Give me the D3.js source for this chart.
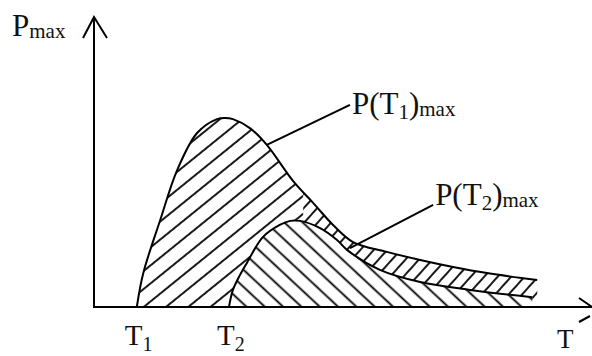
<!DOCTYPE html>
<html>
<head>
<meta charset="utf-8">
<script src="https://cdn.jsdelivr.net/npm/d3@7"></script>
<style>
  body { margin: 0; background: #fff; }
  text { font-family: "Liberation Serif", "DejaVu Serif", serif; fill: #111; }
</style>
</head>
<body>
<script>
// curve, T and P in arbitrary units (0..10)
const t1Curve = [0.86, 0.99, 1.33, 1.67, 2.07, 2.47, 2.63, 2.79, 3.13, 3.47, 4.00, 4.40, 4.80, 5.20, 5.88, 6.55, 7.21, 7.89, 8.90];
const p1Curve = [0, 1.17, 3.00, 4.72, 6.00, 6.48, 6.52, 6.48, 6.17, 5.59, 4.34, 3.59, 2.83, 2.24, 1.90, 1.62, 1.38, 1.17, 0.93];

const t2Curve = [2.71, 2.79, 2.93, 3.07, 3.39, 3.73, 3.94, 4.14, 4.54, 4.88, 5.08, 5.74, 6.55, 7.55, 8.80];
const p2Curve = [0, 0.59, 1.10, 1.52, 2.41, 2.83, 2.97, 2.97, 2.72, 2.31, 1.97, 1.28, 0.86, 0.59, 0.34];

// tick labels on the T axis
const tickValues = [0.86, 2.71];
const tickLabels = [['T', '1'], ['T', '2']];

// leader lines: from curve point to label
const leaders = [
  { from: [3.47, 5.59], to: [5.14, 6.97], main: 'P(T', sub: '1', tail: ')', max: 'max', at: [5.18, 6.66] },
  { from: [5.14, 2.03], to: [6.81, 3.52], main: 'P(T', sub: '2', tail: ')', max: 'max', at: [6.85, 3.52] }
];

const tailSplit = 4.2; // where the denser hatch starts between the curves

const W = 592, H = 356;

const svg = d3.select('body').append('svg')
  .attr('width', W)
  .attr('height', H);

const x = d3.scaleLinear().domain([0, 10]).range([94, 592]);
const y = d3.scaleLinear().domain([0, 10]).range([307, 17]);

const curve1 = t1Curve.map((t, i) => [t, p1Curve[i]]);
const curve2 = t2Curve.map((t, i) => [t, p2Curve[i]]);

const defs = svg.append('defs');

function hatch(id, spacing, angle, sw) {
  const p = defs.append('pattern')
    .attr('id', id)
    .attr('patternUnits', 'userSpaceOnUse')
    .attr('width', spacing)
    .attr('height', 10)
    .attr('patternTransform', `rotate(${angle})`);
  p.append('line')
    .attr('x1', spacing / 2).attr('y1', -1)
    .attr('x2', spacing / 2).attr('y2', 11)
    .attr('stroke', '#000')
    .attr('stroke-width', sw);
}
hatch('h1', 14, 51, 1.8);
hatch('h1tail', 10, 42, 1.8);
hatch('h2', 12.5, -47, 1.8);

defs.append('clipPath').attr('id', 'leftPart')
  .append('rect')
  .attr('x', 0).attr('y', 0)
  .attr('width', x(tailSplit)).attr('height', H);
defs.append('clipPath').attr('id', 'rightPart')
  .append('rect')
  .attr('x', x(tailSplit)).attr('y', 0)
  .attr('width', W).attr('height', H);

const area = d3.area()
  .x(d => x(d[0]))
  .y0(y(0))
  .y1(d => y(d[1]))
  .curve(d3.curveCatmullRom.alpha(0.5));

const line = d3.line()
  .x(d => x(d[0]))
  .y(d => y(d[1]))
  .curve(d3.curveCatmullRom.alpha(0.5));

// first peak, hatched
svg.append('path').datum(curve1)
  .attr('d', area)
  .attr('fill', 'url(#h1)')
  .attr('clip-path', 'url(#leftPart)');
svg.append('path').datum(curve1)
  .attr('d', area)
  .attr('fill', 'url(#h1tail)')
  .attr('clip-path', 'url(#rightPart)');

// second peak on top
svg.append('path').datum(curve2)
  .attr('d', area)
  .attr('fill', '#fff');
svg.append('path').datum(curve2)
  .attr('d', area)
  .attr('fill', 'url(#h2)');

svg.append('path').datum(curve1)
  .attr('d', line)
  .attr('fill', 'none')
  .attr('stroke', '#000')
  .attr('stroke-width', 2);
svg.append('path').datum(curve2)
  .attr('d', line)
  .attr('fill', 'none')
  .attr('stroke', '#000')
  .attr('stroke-width', 2);

// axes
const axes = svg.append('g')
  .attr('fill', 'none')
  .attr('stroke', '#000')
  .attr('stroke-width', 2);

axes.append('path')
  .attr('d', `M${x(0)},${y(10)}V${y(0)}H${x(10)}`);
axes.append('path')
  .attr('d', `M${x(0) - 11},${y(10) + 21}L${x(0)},${y(10)}L${x(0) + 13},${y(10) + 21}`);
axes.append('path')
  .attr('d', `M${x(10) - 13},${y(0) - 9}L${x(10)},${y(0)}M${x(10) - 13},${y(0) + 15}L${x(10) - 2},${y(0) + 9}`);

// leader lines and their labels
leaders.forEach(d => {
  svg.append('line')
    .attr('x1', x(d.from[0])).attr('y1', y(d.from[1]))
    .attr('x2', x(d.to[0])).attr('y2', y(d.to[1]))
    .attr('stroke', '#000')
    .attr('stroke-width', 2);

  const t = svg.append('text')
    .attr('x', x(d.at[0]))
    .attr('y', y(d.at[1]))
    .attr('font-size', 31);
  t.append('tspan').text(d.main);
  t.append('tspan').attr('font-size', 21).attr('dy', 5).text(d.sub);
  t.append('tspan').attr('dy', -5).text(d.tail);
  t.append('tspan').attr('font-size', 21).attr('dy', 2).text(d.max);
});

// y axis name
const yl = svg.append('text')
  .attr('x', 12)
  .attr('y', 36)
  .attr('font-size', 31);
yl.append('tspan').text('P');
yl.append('tspan').attr('font-size', 21).attr('dy', 2).text('max');

// x axis name
svg.append('text')
  .attr('x', 557)
  .attr('y', 348)
  .attr('font-size', 27)
  .text('T');

// tick labels
tickValues.forEach((v, i) => {
  const t = svg.append('text')
    .attr('x', x(v) - 12)
    .attr('y', y(0) + 38)
    .attr('font-size', 29);
  t.append('tspan').text(tickLabels[i][0]);
  t.append('tspan').attr('font-size', 20).attr('dy', 6).text(tickLabels[i][1]);
});
</script>
</body>
</html>
